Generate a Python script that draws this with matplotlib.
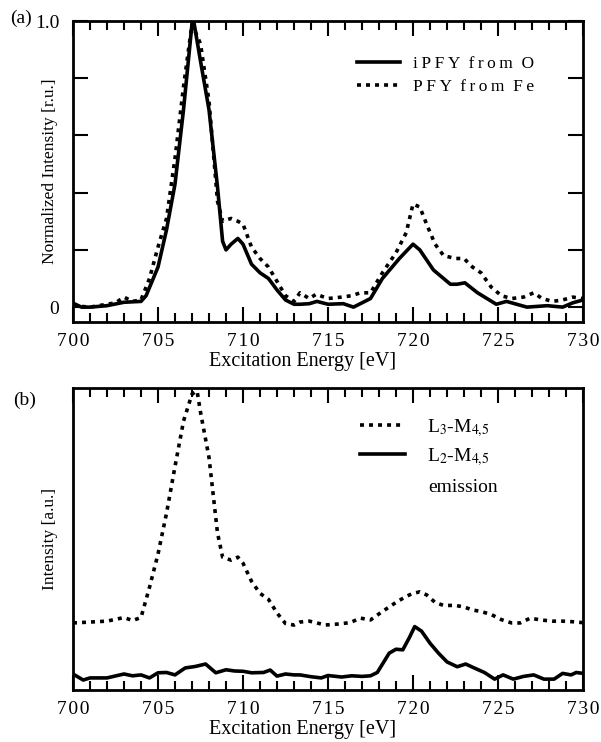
import matplotlib
matplotlib.use('Agg')
import matplotlib.pyplot as plt
from matplotlib.ticker import MultipleLocator, FixedLocator, FuncFormatter

plt.rcParams['font.family'] = ['Liberation Serif', 'DejaVu Serif']
plt.rcParams['mathtext.fontset'] = 'stix'

# (a) iPFY from O
x_o = [700, 700.5, 701, 702, 703, 704, 704.3, 705, 705.5, 706, 706.5, 707, 707.1, 707.5, 708,
       708.5, 708.8, 709.0, 709.3, 709.7, 710.0, 710.5, 711, 711.5, 712, 712.5, 713, 713.35,
       713.9, 714.35, 715, 715.9, 716.5, 717.5, 718.2, 719.2, 720.0, 720.4, 721.2, 722.2, 722.6,
       723.05, 723.8, 724.9, 725.5, 726.7, 727.9, 728.8, 729.4, 730]
y_o = [0.014, 0.0, 0.0, 0.005, 0.017, 0.02, 0.04, 0.14, 0.27, 0.43, 0.69, 0.99, 1.0, 0.86, 0.69,
       0.42, 0.23, 0.2, 0.22, 0.24, 0.22, 0.15, 0.12, 0.1, 0.06, 0.025, 0.01, 0.01,
       0.012, 0.02, 0.01, 0.012, 0.0, 0.03, 0.1, 0.17, 0.22, 0.2, 0.13, 0.08, 0.08,
       0.085, 0.05, 0.01, 0.02, 0.0, 0.005, 0.0, 0.015, 0.025]

# (a) PFY from Fe
x_fe = [700, 701, 702, 702.5, 703, 703.5, 704, 704.5, 705, 705.5, 706, 706.5, 707, 707.5, 708,
        708.5, 708.8, 709.3, 709.7, 710.0, 710.5, 711, 711.5, 712, 712.5, 713, 713.35, 713.9,
        714.3, 715, 715.8, 716.4, 716.9, 717.5, 718.2, 719.0, 719.6, 720.0, 720.4, 720.8, 721.3,
        721.8, 722.5, 723.0, 723.5, 724.0, 724.6, 725.2, 725.8, 726.5, 727.1, 727.6, 728.2,
        728.8, 729.4, 730]
y_fe = [0.005, 0.0, 0.01, 0.015, 0.035, 0.02, 0.025, 0.1, 0.21, 0.31, 0.52, 0.77, 0.99, 0.92, 0.72,
        0.37, 0.3, 0.31, 0.30, 0.29, 0.21, 0.17, 0.14, 0.09, 0.04, 0.02, 0.05, 0.03,
        0.045, 0.03, 0.035, 0.04, 0.05, 0.05, 0.12, 0.19, 0.26, 0.36, 0.35, 0.29, 0.22,
        0.18, 0.17, 0.17, 0.14, 0.12, 0.07, 0.04, 0.03, 0.035, 0.05, 0.03, 0.02,
        0.025, 0.035, 0.03]

# (b) L3-M4,5 emission
x_l3 = [700, 701, 702, 703, 703.5, 704, 704.5, 705, 705.5, 706, 706.5, 707, 707.3, 707.5, 708,
        708.5, 708.8, 709.3, 709.7, 710, 710.5, 711, 711.5, 712, 712.5, 713, 713.35, 713.9,
        714.3, 714.8, 715.5, 716.3, 716.9, 717.5, 718.2, 719.0, 719.6, 720.0, 720.4, 720.8,
        721.3, 721.8, 722.5, 723.0, 723.5, 724.0, 724.6, 725.2, 725.8, 726.3, 726.9, 727.5,
        728.2, 728.8, 729.4, 730]
y_l3 = [0.222, 0.225, 0.228, 0.24, 0.23, 0.24, 0.34, 0.45, 0.585, 0.74, 0.89, 0.98, 0.99, 0.92, 0.77,
        0.52, 0.44, 0.43, 0.44, 0.42, 0.36, 0.32, 0.30, 0.255, 0.22, 0.215, 0.225, 0.228,
        0.223, 0.215, 0.218, 0.223, 0.238, 0.232, 0.26, 0.29, 0.31, 0.32, 0.325, 0.315,
        0.29, 0.28, 0.28, 0.275, 0.265, 0.26, 0.25, 0.233, 0.222, 0.222, 0.238, 0.232,
        0.228, 0.228, 0.226, 0.223]

# (b) L2-M4,5 emission
x_l2 = [700, 700.6, 701, 702, 703, 703.5, 704, 704.5, 705, 705.5, 706, 706.6, 707.2, 707.8,
        708.4, 709, 709.5, 710, 710.5, 711.2, 711.6, 712, 712.5, 713, 713.35, 714, 714.6, 715,
        715.8, 716.4, 717, 717.5, 717.9, 718.6, 719.0, 719.4, 719.8, 720.1, 720.5, 721.0,
        721.5, 722.0, 722.6, 723.1, 723.6, 724.2, 724.8, 725.3, 725.9, 726.5, 727.1, 727.7,
        728.3, 728.8, 729.3, 729.6, 730]
y_l2 = [0.053, 0.033, 0.04, 0.04, 0.053, 0.047, 0.05, 0.04, 0.057, 0.058, 0.05, 0.073, 0.078,
        0.086, 0.057, 0.067, 0.063, 0.062, 0.057, 0.058, 0.066, 0.046, 0.053, 0.05, 0.05,
        0.044, 0.04, 0.048, 0.043, 0.047, 0.045, 0.047, 0.058, 0.122, 0.135, 0.133, 0.175,
        0.21, 0.195, 0.155, 0.122, 0.093, 0.077, 0.086, 0.073, 0.058, 0.036, 0.05, 0.036,
        0.045, 0.05, 0.036, 0.036, 0.055, 0.05, 0.058, 0.055]

W, H = 601, 742
SP = '\u2009'
HSP = '\u200a'
DOT = (0, (1.1, 1.4))
LW = 2.6


def spaced(s, sep=SP):
    return sep.join(s)


def style_xaxis(ax):
    ax.set_xlim(700, 730)
    ax.xaxis.set_major_locator(MultipleLocator(5))
    ax.xaxis.set_minor_locator(MultipleLocator(1))
    ax.xaxis.set_major_formatter(FuncFormatter(lambda v, p: spaced('%d' % v, HSP)))
    ax.tick_params(axis='x', which='both', direction='in', top=True, bottom=True,
                   labelsize=14, pad=8)
    ax.tick_params(axis='x', which='major', length=11, width=1.5)
    ax.tick_params(axis='x', which='minor', length=6.5, width=1.5)
    for s in ax.spines.values():
        s.set_linewidth(2)
    ax.set_xlabel('Excitation Energy [eV]', fontsize=14.5)
    ax.xaxis.set_label_coords(0.451, -0.1)
    ax.xaxis.label.set_va('top')


fig = plt.figure(figsize=(W / 100, H / 100), dpi=100)

# panel (a)
ax1 = fig.add_axes([73 / W, 1 - 322 / H, 510 / W, 301 / H])
ax1.plot(x_o, y_o, color='black', lw=LW, label=spaced('iPFY') + '  ' + spaced('from') + '  O')
ax1.plot(x_fe, y_fe, color='black', lw=LW, linestyle=DOT,
         label=spaced('PFY') + '  ' + spaced('from') + '  ' + spaced('Fe'))
ax1.set_ylim(-0.052, 1.0)
ax1.yaxis.set_major_locator(FixedLocator([0, 0.2, 0.4, 0.6, 0.8, 1.0]))
ax1.yaxis.set_major_formatter(FuncFormatter(lambda v, p: {0: '0', 5: '1.0'}.get(int(round(v * 5)), '')))
ax1.tick_params(axis='y', which='major', direction='in', left=True, right=True,
                length=11, width=1.5, labelsize=14, pad=10)
ax1.set_ylabel('Normalized Intensity [r.u.]', fontsize=12.5)
ax1.yaxis.set_label_coords(-0.03, 0.5)
style_xaxis(ax1)
ax1.legend(loc='upper left', bbox_to_anchor=(0.557, 0.885), frameon=False, fontsize=12.5,
           borderpad=0, borderaxespad=0, handlelength=2.5, handletextpad=0.75, labelspacing=0.4)

# panel (b)
ax2 = fig.add_axes([73 / W, 1 - 690 / H, 510 / W, 302 / H])
ax2.plot(x_l3, y_l3, color='black', lw=LW, linestyle=DOT, label=r'L$_3$-M$_{4,\!5}$')
ax2.plot(x_l2, y_l2, color='black', lw=LW, label=r'L$_2$-M$_{4,\!5}$')
ax2.set_ylim(0, 1.0)
ax2.set_yticks([])
ax2.set_ylabel('Intensity [a.u.]', fontsize=12.5)
ax2.yaxis.set_label_coords(-0.03, 0.5)
style_xaxis(ax2)
ax2.legend(loc='upper left', bbox_to_anchor=(0.563, 0.905), frameon=False, fontsize=14,
           borderpad=0, borderaxespad=0, handlelength=2.3, handletextpad=1.15, labelspacing=0.4)
fig.text(428 / W, 1 - 487 / H, 'emission', fontsize=14, ha='left', va='center')

fig.text(10 / W, 1 - 18 / H, '(a)', fontsize=14, ha='left', va='center')
fig.text(13 / W, 1 - 400 / H, '(b)', fontsize=14, ha='left', va='center')

fig.savefig('out.png', dpi=100)
